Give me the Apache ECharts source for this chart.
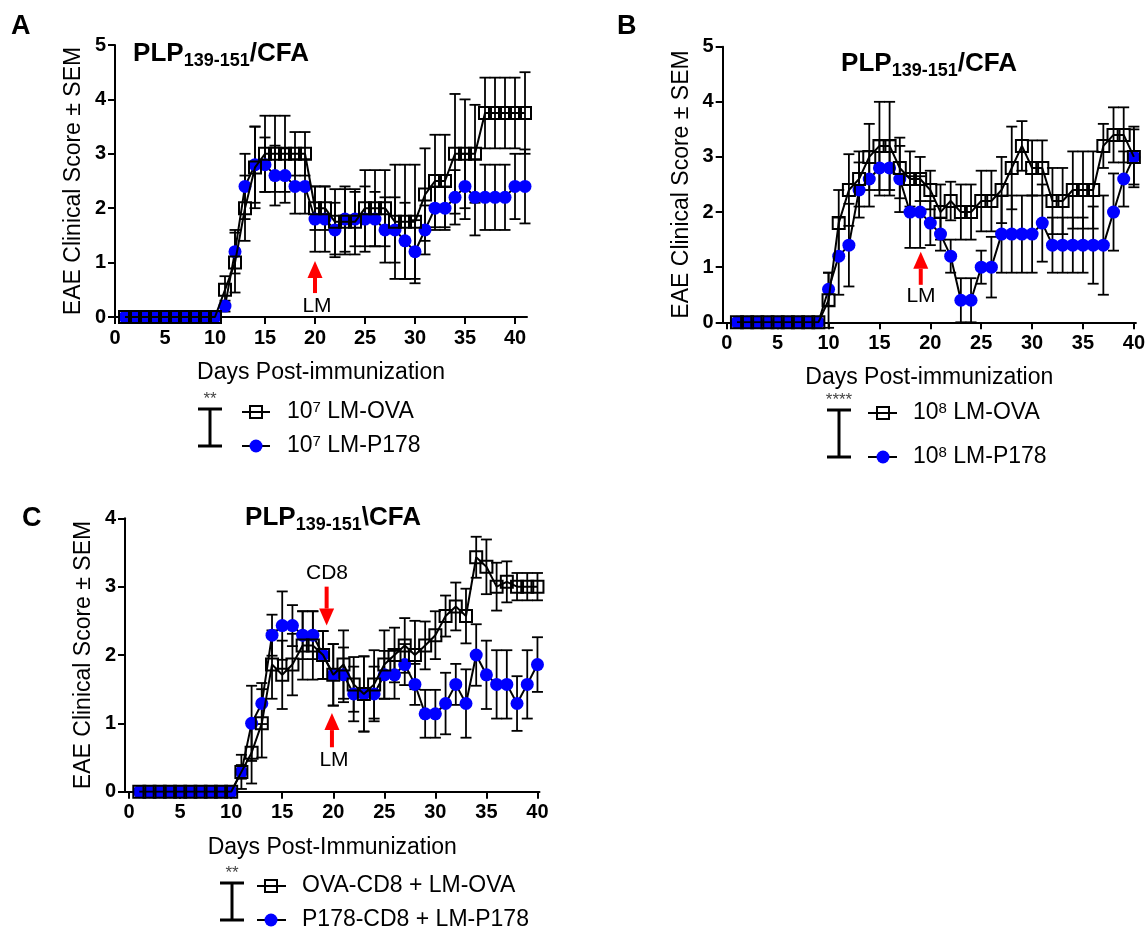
<!DOCTYPE html>
<html><head><meta charset="utf-8">
<script src="https://cdn.jsdelivr.net/npm/echarts@6/dist/echarts.min.js"></script>
<style>html,body{margin:0;padding:0;background:#fff}#c{width:1148px;height:930px}</style>
</head><body><div id="c"></div>
<script>
// ---------------- DATA ----------------
const daysA = [1,2,3,4,5,6,7,8,9,10,11,12,13,14,15,16,17,18,19,20,21,22,23,24,25,26,27,28,29,30,31,32,33,34,35,36,37,38,39,40,41];
const ovaA  = [0,0,0,0,0,0,0,0,0,0,0.5,1.0,2.0,2.75,3.0,3.0,3.0,3.0,3.0,2.0,2.0,1.75,1.75,1.75,2.0,2.0,2.0,1.75,1.75,1.75,2.25,2.5,2.5,3.0,3.0,3.0,3.75,3.75,3.75,3.75,3.75];
const ovaAsem = [0,0,0,0,0,0,0,0,0,0,0.25,0.55,0.6,0.75,0.7,0.7,0.7,0.4,0.4,0.4,0.4,0.6,0.6,0.6,0.7,0.7,0.7,1.05,1.05,1.05,0.85,0.85,0.85,1.1,1.0,0.9,0.65,0.65,0.65,0.65,0.75];
const p178A = [0,0,0,0,0,0,0,0,0,0,0.2,1.2,2.4,2.8,2.8,2.6,2.6,2.4,2.4,1.8,1.8,1.6,1.8,1.8,1.8,1.8,1.6,1.6,1.4,1.2,1.6,2.0,2.0,2.2,2.4,2.2,2.2,2.2,2.2,2.4,2.4];
const p178Asem = [0,0,0,0,0,0,0,0,0,0,0.1,0.4,0.6,0.7,0.5,0.55,0.5,0.5,0.5,0.6,0.6,0.5,0.6,0.5,0.6,0.5,0.6,0.6,0.7,0.58,0.45,0.4,0.4,0.5,0.6,0.7,0.6,0.6,0.6,0.6,0.68];

const daysB = [1,2,3,4,5,6,7,8,9,10,11,12,13,14,15,16,17,18,19,20,21,22,23,24,25,26,27,28,29,30,31,32,33,34,35,36,37,38,39,40];
const ovaB  = [0,0,0,0,0,0,0,0,0,0.4,1.8,2.4,2.6,3.0,3.2,3.2,2.8,2.6,2.6,2.4,2.0,2.2,2.0,2.0,2.2,2.2,2.4,2.8,3.2,2.8,2.8,2.2,2.2,2.4,2.4,2.4,3.2,3.4,3.4,3.0];
const ovaBsem = [0,0,0,0,0,0,0,0,0,0.5,0.6,0.65,0.5,0.6,0.8,0.8,0.55,0.5,0.4,0.35,0.5,0.35,0.5,0.5,0.55,0.55,0.6,0.75,0.45,0.5,0.5,0.6,0.6,0.7,0.7,0.7,0.4,0.5,0.5,0.55];
const p178B = [0,0,0,0,0,0,0,0,0,0.6,1.2,1.4,2.4,2.6,2.8,2.8,2.6,2.0,2.0,1.8,1.6,1.2,0.4,0.4,1.0,1.0,1.6,1.6,1.6,1.6,1.8,1.4,1.4,1.4,1.4,1.4,1.4,2.0,2.6,3.0];
const p178Bsem = [0,0,0,0,0,0,0,0,0,0.3,0.7,0.75,0.5,0.5,0.5,0.5,0.6,0.65,0.65,0.4,0.3,0.3,0.4,0.4,0.3,0.55,0.7,0.7,0.7,0.7,0.7,0.5,0.5,0.5,0.5,0.7,0.9,0.7,0.5,0.5];

const daysC = [1,2,3,4,5,6,7,8,9,10,11,12,13,14,15,16,17,18,19,20,21,22,23,24,25,26,27,28,29,30,31,32,33,34,35,36,37,38,39,40];
const ovaC  = [0,0,0,0,0,0,0,0,0,0,0.29,0.57,1.0,1.86,1.71,1.86,2.14,2.14,2.0,1.71,1.86,1.57,1.43,1.57,1.86,2.0,2.14,2.0,2.14,2.29,2.57,2.71,2.57,3.43,3.29,3.0,3.07,3.0,3.0,3.0];
const ovaCsem = [0,0,0,0,0,0,0,0,0,0,0.25,0.45,0.5,0.5,0.5,0.45,0.5,0.5,0.35,0.45,0.5,0.4,0.55,0.5,0.5,0.4,0.4,0.5,0.35,0.35,0.3,0.35,0.4,0.3,0.4,0.35,0.3,0.2,0.2,0.2];
const p178C = [0,0,0,0,0,0,0,0,0,0,0.29,1.0,1.29,2.29,2.43,2.43,2.29,2.29,2.0,1.71,1.71,1.43,1.43,1.43,1.71,1.71,1.86,1.57,1.14,1.14,1.29,1.57,1.29,2.0,1.71,1.57,1.57,1.29,1.57,1.86];
const p178Csem = [0,0,0,0,0,0,0,0,0,0,0.1,0.55,0.3,0.3,0.5,0.3,0.35,0.35,0.35,0.45,0.4,0.4,0.55,0.4,0.35,0.35,0.3,0.3,0.35,0.35,0.45,0.3,0.5,0.45,0.5,0.5,0.5,0.4,0.5,0.4];

const xTickLabels = [0,5,10,15,20,25,30,35,40];
const yTicksAB = [0,1,2,3,4,5];
const yTicksC = [0,1,2,3,4];

// ---------------- CHART ----------------
const FONT = 'Liberation Sans, Arial, sans-serif';
const BLUE = '#0000ff';
const chart = echarts.init(document.getElementById('c'), null, {renderer:'canvas'});

const grids = [
  {left:115, top:45, width:412, height:272},
  {left:722.7, top:46.7, width:414, height:275.6},
  {left:125, top:518.3, width:414.5, height:273.4}
];
const xRanges = [[0,41.2],[-0.4,40.2],[-0.4,40.2]];
const yMax = [5,5,4];
const xNames = ['Days Post-immunization','Days Post-immunization','Days Post-Immunization'];

function xAxis(i){
  return {
    type:'value', gridIndex:i, min:xRanges[i][0], max:xRanges[i][1],
    axisLine:{show:true, onZero:false, lineStyle:{color:'#000', width:2}},
    axisTick:{show:true, length:7, inside:false, customValues:xTickLabels, lineStyle:{color:'#000', width:2}},
    axisLabel:{customValues:xTickLabels, color:'#000', fontSize:20, fontWeight:'bold', fontFamily:FONT, margin:11},
    splitLine:{show:false},
    name:xNames[i], nameLocation:'middle', nameGap:44,
    nameTextStyle:{color:'#000', fontSize:23, fontFamily:FONT}
  };
}
function yAxis(i){
  const ticks = i===2 ? yTicksC : yTicksAB;
  return {
    type:'value', gridIndex:i, min:0, max:yMax[i], interval:1,
    axisLine:{show:true, onZero:false, lineStyle:{color:'#000', width:2}},
    axisTick:{show:true, length:7, customValues:ticks, lineStyle:{color:'#000', width:2}},
    axisLabel:{customValues:ticks, color:'#000', fontSize:20, fontWeight:'bold', fontFamily:FONT, margin:9},
    splitLine:{show:false},
    name:'EAE Clinical Score \u00b1 SEM', nameLocation:'middle', nameRotate:90, nameGap:30,
    nameTextStyle:{color:'#000', fontSize:23, fontFamily:FONT}
  };
}

function errData(days, m, s){
  const out = [];
  days.forEach((d,i)=>{ if (s[i]>0) out.push([d, m[i]-s[i], m[i]+s[i]]); });
  return out;
}
function errSeries(i, days, m, s){
  return {
    type:'custom', xAxisIndex:i, yAxisIndex:i, z:1, silent:true, clip:false,
    encode:{x:0, y:[1,2]},
    data: errData(days, m, s),
    renderItem(params, api){
      const x = api.value(0), lo = api.value(1), hi = api.value(2);
      const a = api.coord([x, hi]), b = api.coord([x, lo]);
      const w = 5.5, st = {stroke:'#000', lineWidth:1.8};
      return {type:'group', children:[
        {type:'line', shape:{x1:a[0], y1:a[1], x2:b[0], y2:b[1]}, style:st},
        {type:'line', shape:{x1:a[0]-w, y1:a[1], x2:a[0]+w, y2:a[1]}, style:st},
        {type:'line', shape:{x1:b[0]-w, y1:b[1], x2:b[0]+w, y2:b[1]}, style:st}
      ]};
    }
  };
}
function p178Series(i, days, m){
  return {
    type:'line', xAxisIndex:i, yAxisIndex:i, z:2, silent:true,
    data: days.map((d,k)=>[d, m[k]]),
    symbol:'circle', symbolSize:13, showAllSymbol:true,
    itemStyle:{color:BLUE, borderWidth:0},
    lineStyle:{color:'#000', width:2}
  };
}
function ovaSeries(i, days, m){
  return {
    type:'line', xAxisIndex:i, yAxisIndex:i, z:3, silent:true,
    data: days.map((d,k)=>[d, m[k]]),
    symbol:'rect', symbolSize:12, showAllSymbol:true,
    itemStyle:{color:'rgba(0,0,0,0)', borderColor:'#000', borderWidth:2},
    lineStyle:{color:'#000', width:2}
  };
}

const series = [
  errSeries(0, daysA, ovaA, ovaAsem), errSeries(0, daysA, p178A, p178Asem),
  p178Series(0, daysA, p178A), ovaSeries(0, daysA, ovaA),
  errSeries(1, daysB, ovaB, ovaBsem), errSeries(1, daysB, p178B, p178Bsem),
  p178Series(1, daysB, p178B), ovaSeries(1, daysB, ovaB),
  errSeries(2, daysC, ovaC, ovaCsem), errSeries(2, daysC, p178C, p178Csem),
  p178Series(2, daysC, p178C), ovaSeries(2, daysC, ovaC)
];

chart.setOption({
  animation:false,
  backgroundColor:'#fff',
  textStyle:{fontFamily:FONT},
  grid: grids,
  xAxis: [xAxis(0), xAxis(1), xAxis(2)],
  yAxis: [yAxis(0), yAxis(1), yAxis(2)],
  series
});

// ---------------- ANNOTATIONS ----------------
const titleRich = {
  b:{fontSize:26, fontWeight:'bold', fontFamily:FONT, lineHeight:32, fill:'#000'},
  s:{fontSize:18, fontWeight:'bold', fontFamily:FONT, lineHeight:15, verticalAlign:'bottom', fill:'#000'}
};
const supRich = {
  sup:{fontSize:15, fontFamily:FONT, lineHeight:12, verticalAlign:'top', fill:'#000'}
};
function title(x, y, sep){
  return {type:'text', x, y, z:10, style:{text:'{b|PLP}{s|139-151}{b|'+sep+'CFA}', rich:titleRich, align:'center', verticalAlign:'middle', fontFamily:FONT}};
}
function letter(t, x, y){
  return {type:'text', x, y, z:10, style:{text:t, fontSize:27, fontWeight:'bold', fontFamily:FONT, fill:'#000', align:'left', verticalAlign:'middle'}};
}
function label(t, x, y){
  return {type:'text', x, y, z:10, style:{text:t, fontSize:21, fontFamily:FONT, fill:'#000', align:'center', verticalAlign:'middle'}};
}
function arrow(gi, xv, yTail, yTip){
  const t = chart.convertToPixel({gridIndex:gi}, [xv, yTail]);
  const h = chart.convertToPixel({gridIndex:gi}, [xv, yTip]);
  const dir = h[1] < t[1] ? 1 : -1; // 1 = pointing up
  const headLen = 17, headW = 7.5, shaftW = 2;
  const baseY = h[1] + dir*headLen;
  return {type:'group', z:10, children:[
    {type:'rect', shape:{x:t[0]-shaftW, y:Math.min(baseY,t[1]), width:shaftW*2, height:Math.abs(t[1]-baseY)}, style:{fill:'#ff0000'}},
    {type:'polygon', shape:{points:[[h[0],h[1]],[h[0]-headW,baseY],[h[0]+headW,baseY]]}, style:{fill:'#ff0000'}}
  ]};
}
function legend(cx, yTop, yBot, stars, lx1, lx2, mx, tx, t1, t2){
  const st = {stroke:'#000', lineWidth:3};
  const sl = {stroke:'#000', lineWidth:2};
  return [
    {type:'text', x:cx, y:yTop-10, z:10, style:{text:stars, fontSize:17, fontFamily:FONT, fill:'#444', align:'center', verticalAlign:'middle'}},
    {type:'line', z:10, shape:{x1:cx, y1:yTop, x2:cx, y2:yBot}, style:st},
    {type:'line', z:10, shape:{x1:cx-12, y1:yTop, x2:cx+12, y2:yTop}, style:st},
    {type:'line', z:10, shape:{x1:cx-12, y1:yBot, x2:cx+12, y2:yBot}, style:st},
    {type:'line', z:10, shape:{x1:lx1, y1:yTop+3, x2:lx2, y2:yTop+3}, style:sl},
    {type:'rect', z:11, shape:{x:mx-6, y:yTop+3-6, width:12, height:12}, style:{fill:'rgba(0,0,0,0)', stroke:'#000', lineWidth:2}},
    {type:'line', z:10, shape:{x1:lx1, y1:yBot, x2:lx2, y2:yBot}, style:sl},
    {type:'circle', z:11, shape:{cx:mx, cy:yBot, r:6.5}, style:{fill:BLUE}},
    {type:'text', x:tx, y:yTop+3, z:10, style:{text:t1, rich:supRich, fontSize:23, fontFamily:FONT, fill:'#000', align:'left', verticalAlign:'middle'}},
    {type:'text', x:tx, y:yBot, z:10, style:{text:t2, rich:supRich, fontSize:23, fontFamily:FONT, fill:'#000', align:'left', verticalAlign:'middle'}}
  ];
}

const graphics = [
  letter('A', 11, 27), letter('B', 617, 27), letter('C', 22, 519),
  title(221, 54, '/'), title(929, 64, '/'), title(333, 518, '\\'),
  arrow(0, 20, 0.44, 1.03), label('LM', 317, 306),
  arrow(1, 19.06, 0.68, 1.28), label('LM', 921, 296),
  arrow(2, 19.35, 3.0, 2.43), label('CD8', 327, 573),
  arrow(2, 19.87, 0.65, 1.15), label('LM', 334, 760)
].concat(
  legend(210, 409, 446, '**', 242, 270, 256, 287, '10{sup|7} LM-OVA', '10{sup|7} LM-P178'),
  legend(839, 410, 457, '****', 868, 897, 883, 913, '10{sup|8} LM-OVA', '10{sup|8} LM-P178'),
  legend(232, 883, 920, '**', 257, 286, 271, 302, 'OVA-CD8 + LM-OVA', 'P178-CD8 + LM-P178')
);
chart.setOption({graphic: graphics});
</script>
</body></html>
